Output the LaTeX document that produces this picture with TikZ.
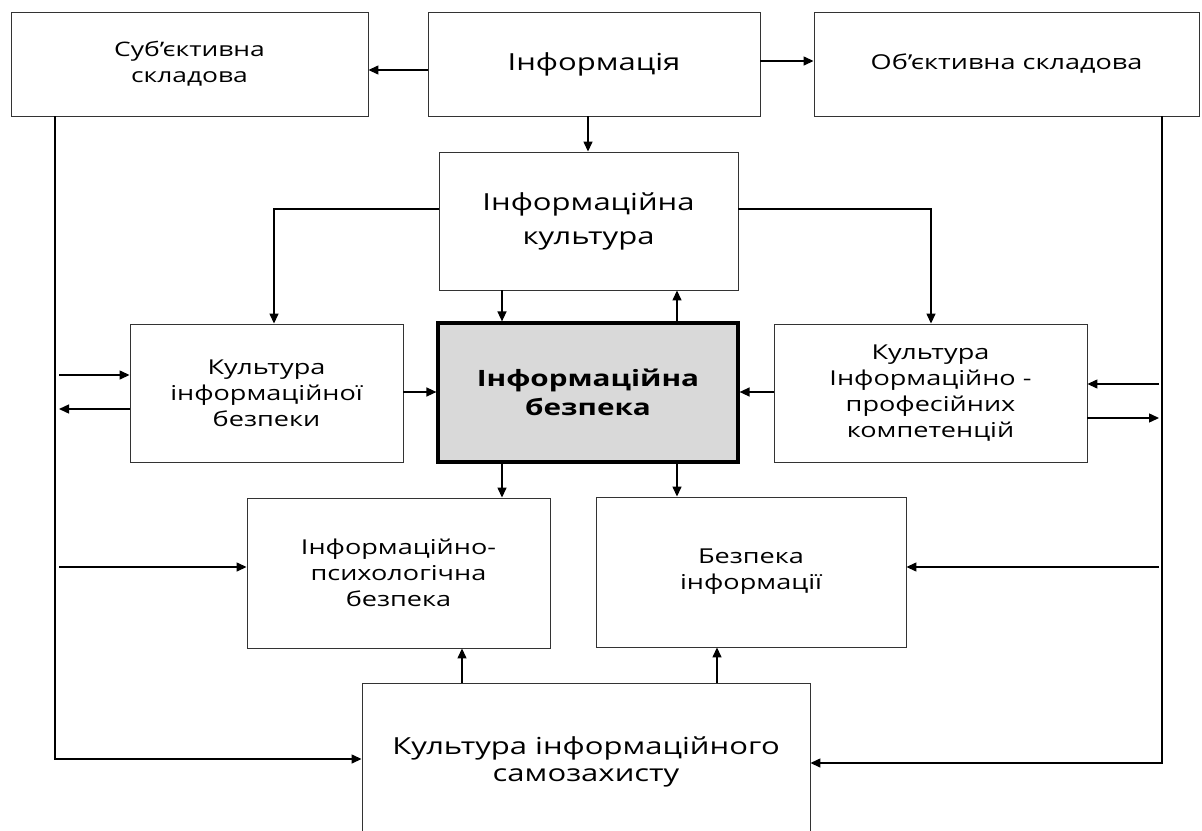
\documentclass[tikz,border=0pt]{standalone}
\usepackage{fontspec}
\setmainfont{Open Sans}[FakeStretch=1.32]
\usetikzlibrary{arrows.meta}
\definecolor{ibfill}{HTML}{D9D9D9}
\begin{document}
\begin{tikzpicture}[x=1pt,y=-1pt,
  box/.style={draw=black!80, line width=0.9pt, fill=white, align=center, inner sep=0pt},
  nfont/.style={font=\fontsize{20.5}{26}\selectfont},
  bfont/.style={font=\fontsize{23.5}{34}\selectfont},
  conn/.style={line width=1.4pt},
  arr/.style={conn, -{Triangle[length=10pt,width=9pt]}}]
\useasboundingbox (0,0) rectangle (1202,830);
\fill[white] (0,0) rectangle (1202,830);
\clip (0,0) rectangle (1202,830);
% nodes
\node[box, font=\fontsize{20}{26}\selectfont, minimum width=357, minimum height=104] (sub) at (189.5,64) {Суб’єктивна\\складова};
\node[box, bfont, minimum width=332, minimum height=104] (inf) at (594,64) {Інформація};
\node[box, nfont, minimum width=385, minimum height=104] (obj) at (1006.5,64) {Об’єктивна складова};
\node[box, bfont, minimum width=299, minimum height=138] (ic) at (588.5,221) {Інформаційна\\культура};
\node[box, draw=black, line width=3.2pt, fill=ibfill, font=\fontsize{22.5}{29}\selectfont\bfseries, minimum width=300, minimum height=139] (ib) at (588,392.5) {Інформаційна\\безпека};
\node[box, nfont, minimum width=273, minimum height=138] (kib) at (266.5,393) {Культура\\інформаційної\\безпеки};
\node[box, nfont, minimum width=313, minimum height=138] (kipk) at (930.5,393) {Культура\\Інформаційно -\\професійних\\компетенцій};
\node[box, nfont, minimum width=303, minimum height=150] (ipb) at (398.5,573) {Інформаційно-\\психологічна\\безпека};
\node[box, nfont, minimum width=310, minimum height=150] (bi) at (751,572) {Безпека\\інформації};
\node[box, font=\fontsize{23.5}{27}\selectfont, minimum width=448, minimum height=157] (kis) at (586,761.5) {Культура інформаційного\\самозахисту};
% helper coordinates
\coordinate (yA) at (0,70);
\coordinate (yB) at (0,61);
\coordinate (yC) at (0,209);
\coordinate (yD) at (0,375);
\coordinate (yE) at (0,409);
\coordinate (yF) at (0,384);
\coordinate (yG) at (0,418);
\coordinate (yH) at (0,392);
\coordinate (yI) at (0,567);
\coordinate (yJ) at (0,759);
\coordinate (yK) at (0,763);
\coordinate (x0) at (588,0);
\coordinate (xK) at (274,0);
\coordinate (xP) at (931,0);
\coordinate (xL) at (55,0);
\coordinate (xR) at (1162,0);
\coordinate (xLa) at (59,0);
\coordinate (xRa) at (1159,0);
\coordinate (x1) at (502,0);
\coordinate (x2) at (677,0);
\coordinate (x3) at (462,0);
\coordinate (x4) at (717,0);
% connectors
\draw[arr] (inf.west |- yA) -- (sub.east |- yA);
\draw[arr] (inf.east |- yB) -- (obj.west |- yB);
\draw[arr] (inf.south -| x0) -- (ic.north -| x0);
\draw[arr] (ic.west |- yC) -- (xK |- yC) -- (kib.north -| xK);
\draw[arr] (ic.east |- yC) -- (xP |- yC) -- (kipk.north -| xP);
\draw[arr] (ic.south -| x1) -- (ib.north -| x1);
\draw[arr] (ib.north -| x2) -- (ic.south -| x2);
\draw[arr] (kib.east |- yH) -- (ib.west |- yH);
\draw[arr] (kipk.west |- yH) -- (ib.east |- yH);
\draw[arr] (ib.south -| x1) -- (ipb.north -| x1);
\draw[arr] (ib.south -| x2) -- (bi.north -| x2);
\draw[arr] (kis.north -| x3) -- (ipb.south -| x3);
\draw[arr] (kis.north -| x4) -- (bi.south -| x4);
\draw[arr] (sub.south -| xL) -- (xL |- yJ) -- (kis.west |- yJ);
\draw[arr] (obj.south -| xR) -- (xR |- yK) -- (kis.east |- yK);
\draw[arr] (xLa |- yD) -- (kib.west |- yD);
\draw[arr] (kib.west |- yE) -- (xLa |- yE);
\draw[arr] (xLa |- yI) -- (ipb.west |- yI);
\draw[arr] (xRa |- yF) -- (kipk.east |- yF);
\draw[arr] (kipk.east |- yG) -- (xRa |- yG);
\draw[arr] (xRa |- yI) -- (bi.east |- yI);
\end{tikzpicture}
\end{document}
